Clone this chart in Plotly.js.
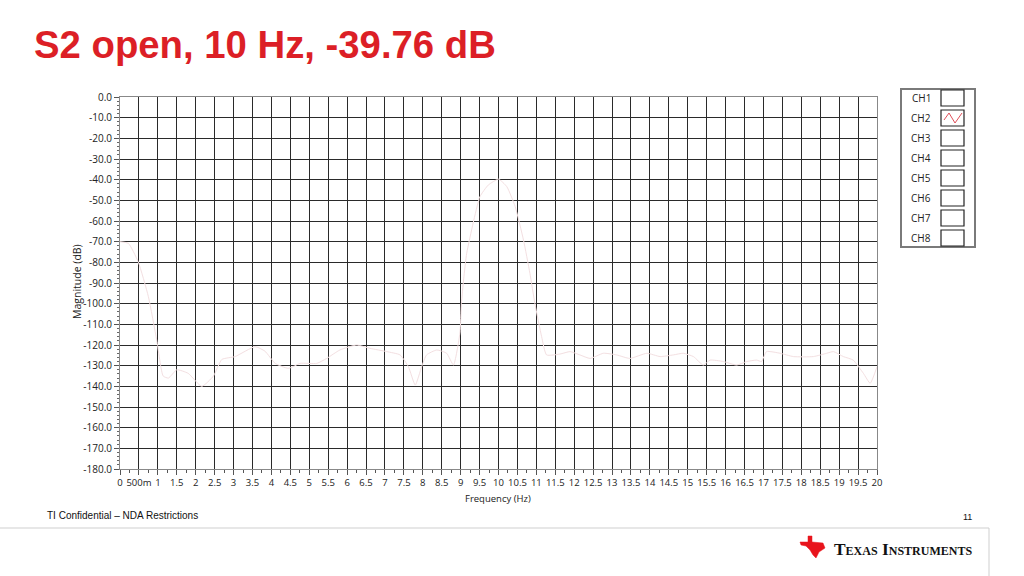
<!DOCTYPE html>
<html>
<head>
<meta charset="utf-8">
<script src="https://cdn.plot.ly/plotly-3.0.1.min.js"></script>
<style>html,body{margin:0;padding:0;background:#fff;}#chart{width:1024px;height:576px;}</style>
</head>
<body>
<div id="chart"></div>
<script>
// ---- data ----
const freqHz = [0, 0.22, 0.48, 0.75, 0.97, 1.14, 1.28, 1.5, 1.8, 2.16, 2.47, 2.69, 3.04, 3.57, 3.83, 4.1, 4.45, 4.76, 5.2, 5.46, 5.81, 6.25, 6.6, 7.05, 7.4, 7.62, 7.8, 7.97, 8.1, 8.37, 8.63, 8.81, 8.98, 9.02, 9.08, 9.16, 9.33, 9.51, 9.73, 10.0, 10.22, 10.44, 10.66, 10.83, 10.96, 11.14, 11.27, 11.62, 11.89, 12.15, 12.42, 12.77, 13.12, 13.47, 13.92, 14.27, 14.62, 14.88, 15.15, 15.41, 15.59, 15.94, 16.29, 16.56, 16.82, 16.95, 17.08, 17.44, 17.79, 18.32, 18.67, 18.85, 19.11, 19.37, 19.64, 19.82, 20.0];
const ch2MagnitudeDb = [-70, -70.8, -79.7, -96.6, -117.6, -135, -136, -132, -133.7, -140, -135, -127, -125.6, -120.8, -123, -128.9, -131.3, -128.9, -128.9, -126.5, -122.4, -120, -121.6, -123.2, -124.8, -130.5, -139.4, -130.5, -124.8, -122.4, -124, -129.7, -114.3, -100, -88, -75.6, -61, -48.2, -42.6, -39.76, -43.4, -53, -69.2, -85.3, -99.8, -116, -124.8, -124.4, -123.2, -124.8, -126.5, -124, -124.8, -126.5, -124, -125.6, -124.8, -124, -125.6, -129.7, -127.3, -128, -129.7, -128, -127.3, -128, -123.2, -124, -125.6, -125.6, -124, -123.2, -125.6, -127.3, -133.7, -138.5, -130.5];

const xTickVals = [0,0.5,1,1.5,2,2.5,3,3.5,4,4.5,5,5.5,6,6.5,7,7.5,8,8.5,9,9.5,10,10.5,11,11.5,12,12.5,13,13.5,14,14.5,15,15.5,16,16.5,17,17.5,18,18.5,19,19.5,20];
const xTickText = ["0","500m","1","1.5","2","2.5","3","3.5","4","4.5","5","5.5","6","6.5","7","7.5","8","8.5","9","9.5","10","10.5","11","11.5","12","12.5","13","13.5","14","14.5","15","15.5","16","16.5","17","17.5","18","18.5","19","19.5","20"];
const yTickVals = [0,-10,-20,-30,-40,-50,-60,-70,-80,-90,-100,-110,-120,-130,-140,-150,-160,-170,-180];
const yTickText = ["0.0","-10.0","-20.0","-30.0","-40.0","-50.0","-60.0","-70.0","-80.0","-90.0","-100.0","-110.0","-120.0","-130.0","-140.0","-150.0","-160.0","-170.0","-180.0"];
const channelNames = ["CH1","CH2","CH3","CH4","CH5","CH6","CH7","CH8"];

const titleText = "S2 open, 10 Hz, -39.76 dB";
const footerText = "TI Confidential \u2013 NDA Restrictions";
const pageNumber = "11";

// ---- layout helpers (pixel -> paper) ----
const L = 120, R = 877, T = 97, B = 469, W = 1024, H = 576;
const px = x => (x - L) / (R - L);
const py = y => (B - y) / (B - T);

const shapes = [];
const annotations = [];

// legend frame
shapes.push({type:'rect', xref:'paper', yref:'paper', x0:px(901), x1:px(975), y0:py(89), y1:py(247),
  line:{color:'#7a7a7a', width:2}, fillcolor:'rgba(0,0,0,0)'});
channelNames.forEach((name, i) => {
  const c = 98 + 20 * i;
  shapes.push({type:'rect', xref:'paper', yref:'paper', x0:px(941), x1:px(964), y0:py(c + 8), y1:py(c - 8),
    line:{color:'#222', width:1.2}, fillcolor:'#fff'});
  annotations.push({xref:'paper', yref:'paper', x:px(921), y:py(c), text:name, showarrow:false,
    xanchor:'center', yanchor:'middle', font:{family:'Open Sans', size:10, color:'#222'}});
  if (name === 'CH2') {
    const pts = [[944, c + 2], [949, c - 5], [955, c + 5], [962, c - 5]];
    let d = 'M ' + pts.map(p => px(p[0]) + ' ' + py(p[1])).join(' L ');
    shapes.push({type:'path', xref:'paper', yref:'paper', path:d, line:{color:'#e0505a', width:1}});
  }
});

// bottom bar
shapes.push({type:'rect', xref:'paper', yref:'paper', x0:px(-2), x1:px(989), y0:py(528), y1:py(580),
  line:{color:'#cfcfcf', width:1}, fillcolor:'rgba(0,0,0,0)'});

// TI logo state outline
const tx = [[808,536],[812,536],[812,542],[823,543],[825,548],[819,552],[816,558],[813,555],[810,550],[806,546],[801,545],[800,542],[808,542]];
shapes.push({type:'path', xref:'paper', yref:'paper',
  path:'M ' + tx.map(p => px(p[0]) + ' ' + py(p[1])).join(' L ') + ' Z',
  fillcolor:'#e8141c', line:{color:'#e8141c', width:0.5}});

annotations.push({xref:'paper', yref:'paper', x:px(832), y:py(549), text:'<b>Texas Instruments</b>', showarrow:false,
  xanchor:'left', yanchor:'middle', font:{family:'Liberation Serif', size:17.4, color:'#111', variant:'small-caps'}});

// axis titles
annotations.push({xref:'paper', yref:'paper', x:px(77), y:py(282), text:'Magnitude (dB)', textangle:-90, showarrow:false,
  xanchor:'center', yanchor:'middle', font:{family:'Open Sans', size:10.5, color:'#222'}});
annotations.push({xref:'paper', yref:'paper', x:px(498), y:py(498), text:'Frequency (Hz)', showarrow:false,
  xanchor:'center', yanchor:'middle', font:{family:'Open Sans', size:9.5, color:'#222'}});

// footer
annotations.push({xref:'paper', yref:'paper', x:px(45), y:py(515), text:footerText, showarrow:false,
  xanchor:'left', yanchor:'middle', font:{family:'Liberation Sans', size:10, color:'#111'}});
annotations.push({xref:'paper', yref:'paper', x:px(974), y:py(517), text:pageNumber, showarrow:false,
  xanchor:'right', yanchor:'middle', font:{family:'Liberation Sans', size:9, color:'#111'}});

const trace = {
  x: freqHz, y: ch2MagnitudeDb, type:'scatter', mode:'lines', name:'CH2',
  line:{color:'#f3dfe1', width:1, shape:'spline', smoothing:0.5},
  hoverinfo:'skip'
};

const layout = {
  width: W, height: H,
  margin: {l: L, r: W - R, t: T, b: H - B, pad: 0},
  paper_bgcolor:'#fff', plot_bgcolor:'#fff',
  showlegend:false,
  title: {text: '<b>' + titleText + '</b>', xref:'container', yref:'container', x: 34 / W, xanchor:'left',
    y: 1 - 45 / H, yanchor:'middle', font:{family:'Liberation Sans', size:38.3, color:'#dc1f26'}},
  xaxis: {
    range:[0, 20], tickmode:'array', tickvals:xTickVals, ticktext:xTickText, tickangle:0,
    showgrid:true, gridcolor:'#2a2a2a', gridwidth:1, zeroline:false,
    showline:true, linecolor:'#888', linewidth:1, mirror:true,
    ticks:'outside', ticklen:5, tickcolor:'#555', tickwidth:1,
    minor:{dtick:0.25, tick0:0, ticks:'outside', ticklen:3, tickcolor:'#555', showgrid:false},
    tickfont:{family:'Open Sans', size:9.5, color:'#222'}, fixedrange:true
  },
  yaxis: {
    range:[-180, 0], tickmode:'array', tickvals:yTickVals, ticktext:yTickText,
    showgrid:true, gridcolor:'#2a2a2a', gridwidth:1, zeroline:false,
    showline:true, linecolor:'#888', linewidth:1, mirror:true,
    ticks:'outside', ticklen:5, tickcolor:'#555', tickwidth:1,
    minor:{dtick:2, tick0:0, ticks:'outside', ticklen:2, tickcolor:'#666', showgrid:false},
    tickfont:{family:'Open Sans', size:10, color:'#222'}, fixedrange:true
  },
  shapes: shapes,
  annotations: annotations
};

Plotly.newPlot('chart', [trace], layout, {displayModeBar:false, staticPlot:true});
</script>
</body>
</html>
